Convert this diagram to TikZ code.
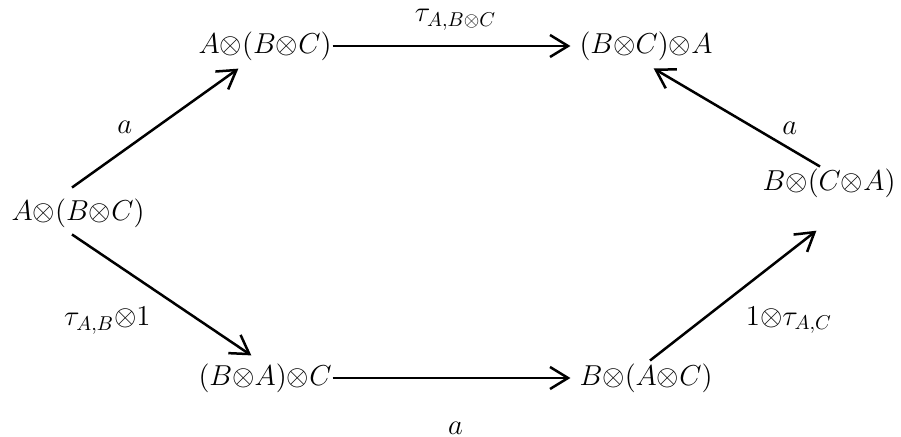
\documentclass[tikz,border=0pt]{standalone}
\usepackage{tikz}
\usetikzlibrary{
  arrows.meta,
  calc
}
\newcommand{\ot}{{\otimes}}

\begin{document}
\begin{tikzpicture}[x=0.5pt,y=-0.5pt,
    font=\Large,
    map/.style={-{Straight Barb[length=9pt,width=11pt]},line width=1.25pt,shorten >=1pt}]
                  \useasboundingbox (0,0) rectangle (901,437);
                  \node (L) at (78, 213) {$A\ot(B\ot C)$};
                  \node (T1) at (265, 46) {$A\ot(B\ot C)$};
                  \node (T2) at (646, 46) {$(B\ot C)\ot A$};
                  \node (R) at (829, 183) {$B\ot(C\ot A)$};
                  \node (B1) at (265, 378) {$(B\ot A)\ot C$};
                  \node (B2) at (646, 378) {$B\ot(A\ot C)$};

                  \draw[map] ($(L.north)+(-6,-4)$) -- node[left=8pt] {$a$} ($(T1.south)+(-25,0)$);
                  \draw[map,shorten <=-3pt] (T1) -- node[above=4pt] {$\tau_{A,B\ot C}$} (T2);
                  \draw[map] ($(R.north)+(-9,5)$) -- node[pos=0.18,above=3pt] {$a$} ($(T2.south)+(6,0)$);

                  \draw[map] ($(L.south)+(-6,0)$) -- node[below left=2pt] {$\tau_{A,B}\ot 1$} ($(B1.north)+(-12,0)$);
                  \draw[map,shorten <=-3pt] (B1) -- node[below=18pt] {$a$} (B2);
                  \draw[map] ($(B2.north)+(4,4)$) -- node[below right=2pt] {$1\ot\tau_{A,C}$} ($(R.south)+(-11,25)$);
                \end{tikzpicture}
\end{document}
